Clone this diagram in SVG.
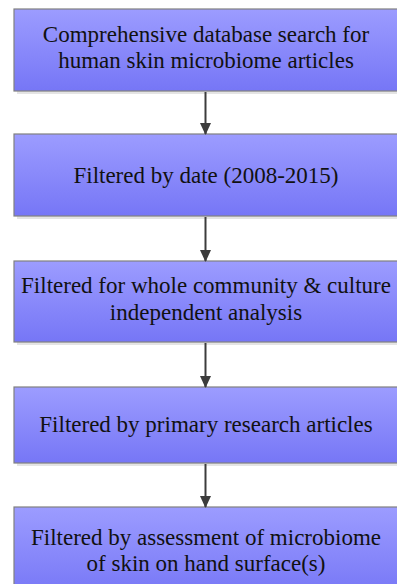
<svg xmlns="http://www.w3.org/2000/svg" width="397" height="584" viewBox="0 0 397 584">
<defs>
<linearGradient id="g" x1="0" y1="0" x2="0" y2="1">
<stop offset="0" stop-color="#9c9cff"/>
<stop offset="1" stop-color="#7676f6"/>
</linearGradient>
<marker id="ah" markerWidth="12" markerHeight="13" refX="12" refY="6" orient="auto" markerUnits="userSpaceOnUse" viewBox="0 0 13 12">
<path d="M0,0 L13,6 L0,12 Z" fill="#3c3c3c"/>
</marker>
</defs>
<style>
.box{fill:url(#g);stroke:#808080;stroke-width:1.2}
.sh{fill:#e4e4e4}
.t{font-family:"Liberation Serif","Times New Roman",serif;font-size:23px;fill:#111;text-anchor:middle}
.c{stroke:#3c3c3c;stroke-width:2;fill:none}
</style>
<rect width="397" height="584" fill="#fff"/>
<g id="n1">
<rect class="sh" x="17" y="12" width="384" height="82"/>
<rect class="box" x="14" y="9" width="384" height="82"/>
<text class="t" x="206" y="42">Comprehensive database search for</text>
<text class="t" x="206" y="68">human skin microbiome articles</text>
</g>
<g id="n2">
<rect class="sh" x="17" y="137" width="384" height="82"/>
<rect class="box" x="14" y="134" width="384" height="82"/>
<text class="t" x="206" y="183">Filtered by date (2008-2015)</text>
</g>
<g id="n3">
<rect class="sh" x="17" y="264" width="384" height="81"/>
<rect class="box" x="14" y="261" width="384" height="81"/>
<text class="t" x="206" y="293">Filtered for whole community &amp; culture</text>
<text class="t" x="206" y="320">independent analysis</text>
</g>
<g id="n4">
<rect class="sh" x="17" y="390" width="384" height="76"/>
<rect class="box" x="14" y="387" width="384" height="76"/>
<text class="t" x="206" y="432">Filtered by primary research articles</text>
</g>
<g id="n5">
<rect class="box" x="14" y="507" width="384" height="90"/>
<text class="t" x="206" y="545">Filtered by assessment of microbiome</text>
<text class="t" x="206" y="571">of skin on hand surface(s)</text>
</g>
<g id="connectors">
<line class="c" x1="205.5" y1="92" x2="205.5" y2="134" marker-end="url(#ah)"/>
<line class="c" x1="205.5" y1="217" x2="205.5" y2="261" marker-end="url(#ah)"/>
<line class="c" x1="205.5" y1="343" x2="205.5" y2="387" marker-end="url(#ah)"/>
<line class="c" x1="205.5" y1="464" x2="205.5" y2="507" marker-end="url(#ah)"/>
</g>
</svg>
